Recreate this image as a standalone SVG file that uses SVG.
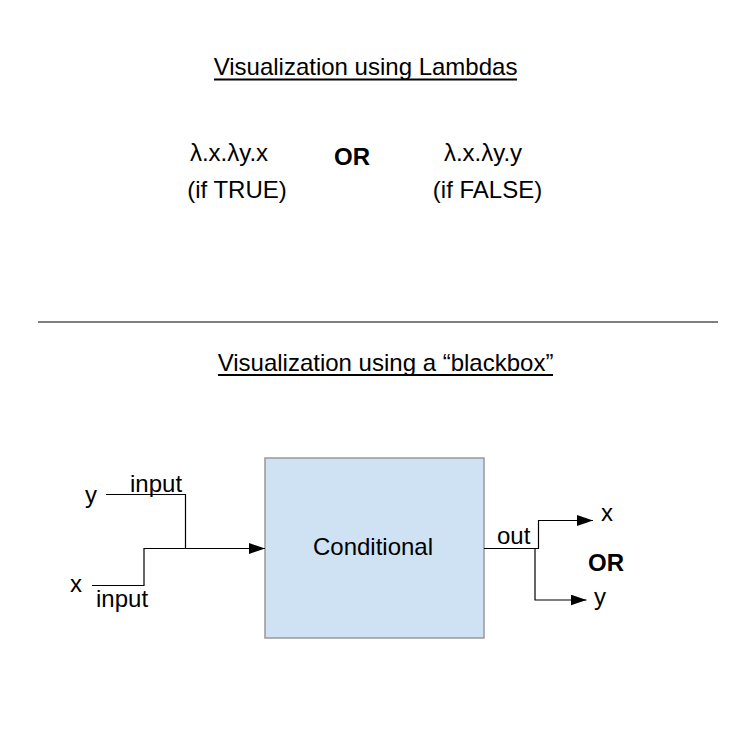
<svg xmlns="http://www.w3.org/2000/svg" width="756" height="756" viewBox="0 0 756 756">
<defs>
<style>
text{font-family:"Liberation Sans",Arial,sans-serif;font-size:24px;fill:#000}
.b{font-weight:bold}
.m{text-anchor:middle}
.ul{stroke:#000;stroke-width:2}
.c{fill:none;stroke:#000;stroke-width:1.2}
</style>
<marker id="ah" viewBox="0 0 16 11" refX="16" refY="5.5" markerWidth="16" markerHeight="11" markerUnits="userSpaceOnUse" orient="auto">
<path d="M0,0 L16,5.5 L0,11 Z" fill="#000"/>
</marker>
</defs>
<rect width="756" height="756" fill="#fff"/>
<g id="lambdas">
<text x="365.5" y="75" class="m">Visualization using Lambdas</text>
<line x1="214" y1="79.5" x2="517" y2="79.5" class="ul"/>
<text x="229" y="161" class="m">λ.x.λy.x</text>
<text x="237" y="198" class="m">(if TRUE)</text>
<text x="352" y="165" class="m b">OR</text>
<text x="483" y="161" class="m">λ.x.λy.y</text>
<text x="487.5" y="198" class="m">(if FALSE)</text>
</g>
<line id="divider" x1="38" y1="322" x2="718" y2="322" stroke="#808080" stroke-width="2"/>
<g id="blackbox-title">
<text x="385.5" y="371" class="m">Visualization using a “blackbox”</text>
<line x1="218" y1="375" x2="553" y2="375" class="ul"/>
</g>
<g id="conditional">
<rect x="265" y="458" width="219" height="180" fill="#cfe2f3" stroke="#999" stroke-width="1.5"/>
<text x="373" y="555" class="m">Conditional</text>
</g>
<g id="connectors">
<polyline points="106,494.5 185.5,494.5 185.5,548.5" class="c"/>
<polyline points="92,585.5 144,585.5 144,548.5 185.5,548.5" class="c"/>
<line x1="185.5" y1="548.5" x2="265" y2="548.5" class="c" marker-end="url(#ah)"/>
<polyline points="484,548.5 538.5,548.5 538.5,520.5 593,520.5" class="c" marker-end="url(#ah)"/>
<polyline points="538.5,548.5 535,548.5 535,600 586.5,600" class="c" marker-end="url(#ah)"/>
</g>
<g id="labels">
<text x="85" y="503">y</text>
<text x="130" y="492">input</text>
<text x="70" y="592">x</text>
<text x="96" y="607">input</text>
<text x="497" y="544">out</text>
<text x="601" y="521">x</text>
<text x="594" y="605">y</text>
<text x="588" y="571" class="b">OR</text>
</g>
</svg>
